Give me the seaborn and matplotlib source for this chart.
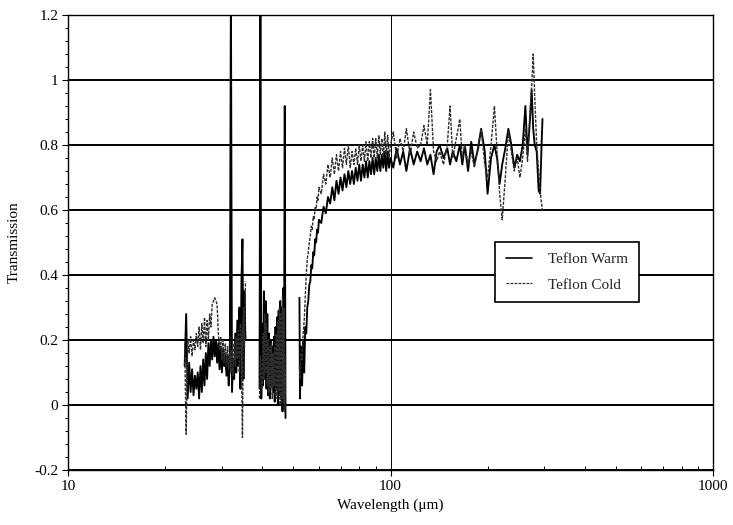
import matplotlib
matplotlib.use("Agg")
import matplotlib.pyplot as plt
import numpy as np
import pandas as pd
import seaborn as sns
from matplotlib.lines import Line2D
from matplotlib.ticker import MultipleLocator, LogLocator, NullFormatter, FixedLocator, FixedFormatter

# ---------------- data ----------------
# Segment A: 23 - 35.5 um
wl_a = [23.00, 23.25, 23.50, 23.75, 24.00, 24.25, 24.50, 24.75, 25.00, 25.25,
        25.50, 25.75, 26.00, 26.25, 26.50, 26.75, 27.00, 27.25, 27.50, 27.75,
        28.00, 28.25, 28.50, 28.75, 29.00, 29.25, 29.50, 29.75, 30.00, 30.25,
        30.50, 30.75, 31.00, 31.25, 31.50, 31.75, 32.00, 32.25, 32.50, 32.75,
        33.00, 33.25, 33.50, 33.75, 34.00, 34.25, 34.50, 34.75, 35.00, 35.25, 35.50]
warm_a = [0.12, 0.28, 0.02, 0.13, 0.04, 0.11, 0.03, 0.09, 0.05, 0.10,
          0.02, 0.12, 0.04, 0.14, 0.06, 0.16, 0.08, 0.19, 0.12, 0.20,
          0.14, 0.21, 0.15, 0.20, 0.13, 0.19, 0.11, 0.18, 0.10, 0.17,
          0.12, 0.16, 0.09, 0.15, 0.06, 0.12, 1.30, 0.04, 0.14, 0.08,
          0.22, 0.10, 0.26, 0.12, 0.30, 0.05, 0.38, 0.51, 0.08, 0.35, 0.20]
cold_a = [0.19, -0.09, 0.20, 0.16, 0.21, 0.15, 0.20, 0.17, 0.22, 0.18,
          0.24, 0.17, 0.25, 0.19, 0.27, 0.18, 0.26, 0.20, 0.28, 0.24,
          0.31, 0.32, 0.33, 0.32, 0.31, 0.22, 0.17, 0.21, 0.14, 0.20,
          0.13, 0.19, 0.12, 0.18, 0.11, 0.16, 0.10, 0.17, 0.09, 0.19,
          0.12, 0.21, 0.14, 0.23, 0.10, 0.25, 0.14, -0.10, 0.30, 0.18, 0.38]

# Segment B: 39 - 47.3 um
wl_b = [39.25, 39.50, 39.75, 40.00, 40.25, 40.50, 40.75, 41.00, 41.25, 41.50,
        41.75, 42.00, 42.25, 42.50, 42.75, 43.00, 43.25, 43.50, 43.75, 44.00,
        44.25, 44.50, 44.75, 45.00, 45.25, 45.50, 45.75, 46.00, 46.25, 46.50,
        46.75, 47.00, 47.25]
warm_b = [0.05, 1.30, 0.02, 0.25, 0.06, 0.35, 0.08, 0.32, 0.05, 0.28,
          0.03, 0.22, 0.02, 0.20, 0.06, 0.18, 0.04, 0.21, 0.01, 0.24,
          0.05, 0.27, 0.00, 0.29, 0.03, 0.32, 0.02, 0.30, -0.02, 0.36,
          0.10, 0.92, -0.04]
cold_b = [0.02, 0.15, 0.10, 0.05, 0.22, 0.08, 0.28, 0.10, 0.25, 0.06,
          0.20, 0.04, 0.18, 0.05, 0.19, 0.02, 0.16, 0.06, 0.18, 0.03,
          0.22, 0.02, 0.26, 0.04, 0.30, 0.00, 0.28, 0.02, 0.33, 0.01,
          0.30, -0.02, 0.15]

# Segment C: 52 - 99 um
wl_c = [52.2, 52.4, 52.8, 53.2, 53.6, 54.0, 54.4, 54.8, 55.2, 55.6,
        56.0, 56.4, 56.8, 57.2, 57.6, 58.0, 58.4, 58.8, 59.2, 59.6,
        60, 61, 62, 63, 64, 65, 66, 67, 68, 69,
        70, 71, 72, 73, 74, 75, 76, 77, 78, 79,
        80, 81, 82, 83, 84, 85, 86, 87, 88, 89,
        90, 91, 92, 93, 94, 95, 96, 97, 98, 99]
warm_c = [0.33, 0.02, 0.18, 0.06, 0.20, 0.10, 0.24, 0.22, 0.30, 0.32,
          0.37, 0.38, 0.43, 0.42, 0.47, 0.46, 0.51, 0.50, 0.54, 0.53,
          0.57, 0.56, 0.61, 0.59, 0.64, 0.62, 0.67, 0.63, 0.69, 0.65,
          0.70, 0.66, 0.71, 0.67, 0.72, 0.68, 0.72, 0.68, 0.73, 0.69,
          0.74, 0.69, 0.74, 0.70, 0.75, 0.70, 0.75, 0.71, 0.76, 0.71,
          0.76, 0.72, 0.77, 0.72, 0.77, 0.73, 0.78, 0.72, 0.78, 0.73]
cold_c = [0.12, 0.08, 0.16, 0.14, 0.22, 0.26, 0.33, 0.40, 0.45, 0.47,
          0.50, 0.52, 0.55, 0.54, 0.58, 0.57, 0.61, 0.60, 0.64, 0.63,
          0.67, 0.65, 0.71, 0.68, 0.74, 0.70, 0.76, 0.71, 0.77, 0.72,
          0.78, 0.73, 0.79, 0.74, 0.80, 0.73, 0.78, 0.74, 0.79, 0.74,
          0.80, 0.75, 0.80, 0.75, 0.81, 0.75, 0.81, 0.76, 0.82, 0.76,
          0.82, 0.76, 0.83, 0.77, 0.82, 0.76, 0.84, 0.77, 0.83, 0.76]

# Segment D: 100 - 296 um
wl_d = [100, 102, 104.5, 107, 109.5, 112, 115, 118, 121, 124,
        127, 130, 133, 136, 139, 142, 146, 150, 153, 156,
        160, 164, 167, 170, 174, 178, 182, 187, 191, 196,
        200, 205, 210, 214, 218, 222, 227, 232, 237, 242,
        247, 252, 257, 262, 266, 270, 274, 277, 280, 284,
        288, 291, 294, 296]
warm_d = [0.76, 0.73, 0.79, 0.74, 0.78, 0.72, 0.79, 0.74, 0.78, 0.75,
          0.79, 0.74, 0.77, 0.71, 0.78, 0.80, 0.76, 0.79, 0.74, 0.78,
          0.75, 0.80, 0.74, 0.80, 0.72, 0.81, 0.74, 0.79, 0.85, 0.78,
          0.65, 0.76, 0.80, 0.76, 0.68, 0.74, 0.79, 0.85, 0.80, 0.73,
          0.77, 0.75, 0.80, 0.92, 0.77, 0.86, 0.97, 0.85, 0.80, 0.78,
          0.66, 0.65, 0.80, 0.88]
cold_d = [0.80, 0.84, 0.76, 0.82, 0.78, 0.85, 0.77, 0.84, 0.79, 0.80,
          0.86, 0.80, 0.97, 0.78, 0.75, 0.78, 0.74, 0.80, 0.92, 0.76,
          0.82, 0.88, 0.76, 0.80, 0.74, 0.78, 0.73, 0.80, 0.85, 0.74,
          0.70, 0.80, 0.92, 0.78, 0.65, 0.57, 0.70, 0.84, 0.78, 0.72,
          0.76, 0.70, 0.76, 0.85, 0.75, 0.88, 0.98, 1.08, 0.95, 0.80,
          0.72, 0.66, 0.62, 0.60]

series_names = ["Teflon Warm", "Teflon Cold"]
y_ticks = [-0.2, 0, 0.2, 0.4, 0.6, 0.8, 1.0, 1.2]
y_ticklabels = ["-0.2", "0", "0.2", "0.4", "0.6", "0.8", "1", "1.2"]
x_ticks = [10, 100, 1000]
x_ticklabels = ["10", "100", "1000"]

# ---------------- build table ----------------
segments = [(wl_a, warm_a, cold_a, 0), (wl_b, warm_b, cold_b, 1),
            (wl_c, warm_c, cold_c, 2), (wl_d, warm_d, cold_d, 2)]
rows = []
for wl, w, c, seg in segments:
    for x, yw, yc in zip(wl, w, c):
        rows.append((x, yw, series_names[0], seg))
        rows.append((x, yc, series_names[1], seg))
df = pd.DataFrame(rows, columns=["wl", "T", "series", "seg"])

# ---------------- plot ----------------
sns.set_theme(style="white")
plt.rcParams["font.family"] = ["Liberation Serif", "DejaVu Serif"]
plt.rcParams["axes.unicode_minus"] = False

fig = plt.figure(figsize=(7.33, 5.25), dpi=100)
ax = fig.add_axes([68 / 733, 1 - 470 / 525, 645 / 733, 455 / 525])

ax.set_xscale("log")
ax.set_xlim(10, 1000)
ax.set_ylim(-0.2, 1.2)

warm_style = dict(color="black", lw=1.35)
cold_style = dict(color="#2e2e2e", lw=1.0, linestyle=(0, (2.2, 1.0)))

sns.lineplot(data=df[df.series == series_names[0]], x="wl", y="T", units="seg",
             estimator=None, sort=False, ax=ax, legend=False, zorder=3, **warm_style)
sns.lineplot(data=df[df.series == series_names[1]], x="wl", y="T", units="seg",
             estimator=None, sort=False, ax=ax, legend=False, zorder=4, **cold_style)

# ticks and grid
ax.set_yticks(y_ticks)
ax.set_yticklabels(y_ticklabels)
ax.xaxis.set_major_locator(FixedLocator(x_ticks))
ax.xaxis.set_major_formatter(FixedFormatter(x_ticklabels))
ax.xaxis.set_minor_locator(LogLocator(base=10, subs=np.arange(2, 10)))
ax.xaxis.set_minor_formatter(NullFormatter())
ax.yaxis.set_minor_locator(MultipleLocator(0.04))

ax.grid(axis="y", which="major", color="black", lw=1.4, zorder=1)
ax.grid(axis="x", which="major", color="black", lw=0.7, zorder=1)
ax.set_axisbelow(True)

for sp in ax.spines.values():
    sp.set_color("black")
    sp.set_linewidth(1.0)
    sp.set_visible(True)

ax.tick_params(axis="both", which="major", labelsize=11, colors="black",
               bottom=True, left=True, direction="out", length=4, width=0.8, pad=3)
ax.tick_params(axis="y", which="minor", left=True, direction="out", length=2.5, width=0.7,
               color="black")
ax.tick_params(axis="x", which="minor", bottom=True, direction="in", length=3, width=0.7,
               color="black")

ax.set_xlabel("Wavelength (\u03bcm)", fontsize=11, color="black", labelpad=4)
ax.set_ylabel("Transmission", fontsize=11, color="black", labelpad=10)

handles = [Line2D([0], [0], color="black", lw=1.2),
           Line2D([0], [0], color="#2e2e2e", lw=0.9, linestyle=(0, (2.2, 1.0)))]
leg = ax.legend(handles, series_names, loc="upper left",
                bbox_to_anchor=(0.662, 0.501), frameon=True, fancybox=False,
                edgecolor="black", framealpha=1.0, fontsize=11,
                handlelength=1.7, handletextpad=1.1, borderpad=0.7,
                labelspacing=0.75, borderaxespad=0)
leg.get_frame().set_linewidth(1.2)
leg.set_zorder(10)

fig.savefig("out.png", dpi=100, facecolor="white")
